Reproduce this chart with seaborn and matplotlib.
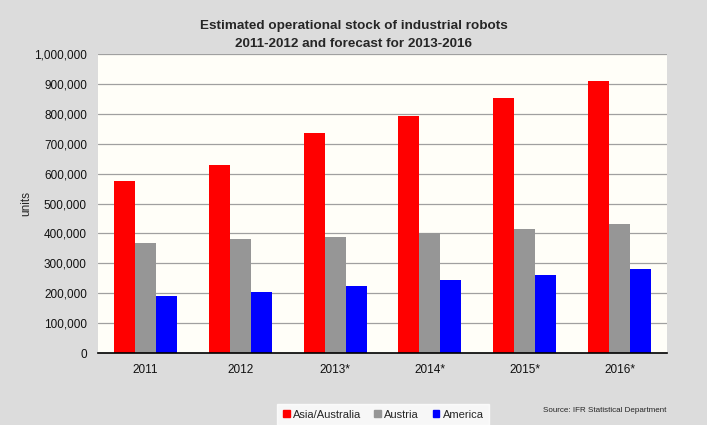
import pandas as pd
import matplotlib.pyplot as plt
import seaborn as sns
from matplotlib.ticker import FuncFormatter

# Data
years = ["2011", "2012", "2013*", "2014*", "2015*", "2016*"]
asia_australia = [576000, 629000, 735000, 794000, 854000, 911000]
austria = [369000, 380000, 387000, 400000, 415000, 430000]
america = [191000, 205000, 225000, 244000, 261000, 280000]

series = {"Asia/Australia": asia_australia, "Austria": austria, "America": america}
rows = []
for name, vals in series.items():
    for y, v in zip(years, vals):
        rows.append({"Year": y, "Region": name, "Units": v})
df = pd.DataFrame(rows)

palette = {"Asia/Australia": "#FF0000", "Austria": "#969696", "America": "#0000FF"}

sns.set_style("white")
plt.rcParams["font.family"] = ["Liberation Sans", "DejaVu Sans"]

fig = plt.figure(figsize=(7.07, 4.25), dpi=100, facecolor="#DCDCDC")
ax = fig.add_axes([0.1386, 0.1694, 0.8048, 0.7035])
ax.set_facecolor("#FFFEF8")

sns.barplot(data=df, x="Year", y="Units", hue="Region", palette=palette,
            width=0.665, gap=0, saturation=1, linewidth=0, ax=ax, legend=False)

ax.set_ylim(0, 1000000)
ax.set_yticks(range(0, 1000001, 100000))
ax.yaxis.set_major_formatter(FuncFormatter(lambda v, p: f"{int(v):,}"))
ax.yaxis.grid(True, color="#A0A0A0", linewidth=0.9)
ax.set_axisbelow(True)
for s in ["top", "right", "left"]:
    ax.spines[s].set_visible(False)
ax.spines["bottom"].set_color("black")
ax.spines["bottom"].set_linewidth(1.2)
ax.tick_params(axis="both", length=0, labelsize=8.5, colors="#111111", pad=8)
ax.tick_params(axis="x", pad=8)
ax.set_xlabel("")
ax.set_ylabel("units", fontsize=8.5)
ax.yaxis.set_label_coords(-0.115, 0.5)

fig.text(0.5, 0.918, "Estimated operational stock of industrial robots\n2011-2012 and forecast for 2013-2016",
         ha="center", va="center", fontsize=9.7, fontweight="bold", linespacing=1.6)

# legend in a white box at the bottom
handles = [plt.Rectangle((0, 0), 1, 1, color=palette[k]) for k in series]
leg = fig.legend(handles, list(series.keys()), loc="center", bbox_to_anchor=(0.542, 0.024),
                 ncol=3, frameon=True, fancybox=False, fontsize=8, handlelength=0.6,
                 handleheight=0.6, handletextpad=0.3, columnspacing=1.2, borderpad=0.5)
leg.get_frame().set_facecolor("white")
leg.get_frame().set_edgecolor("white")

fig.text(0.855, 0.033, "Source: IFR Statistical Department", ha="center", va="center",
         fontsize=5.8)

fig.savefig("out.png", dpi=100, facecolor=fig.get_facecolor())
